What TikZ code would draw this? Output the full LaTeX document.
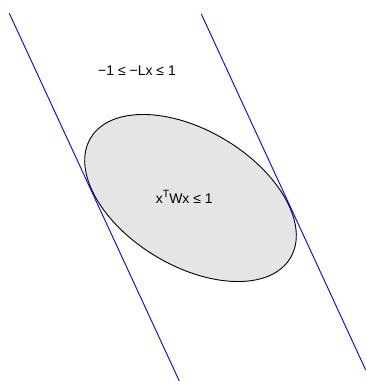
\documentclass[tikz,border=0pt]{standalone}
\usepackage{fontspec}
\setmainfont{Liberation Sans}
\begin{document}
\begin{tikzpicture}
    [x=1pt,y=-1pt,
    bound/.style={blue,line width=0.9pt},
    region/.style={draw=black,fill=black!10,line width=0.9pt},
    lbl/.style={font=\fontsize{14}{16}\selectfont,inner sep=0pt,anchor=base}]
    \useasboundingbox (0,0) rectangle (366,381);
    %ellipse
    \draw[region,rotate around={-31:(190.5,198)}] (190.5,198) ellipse [x radius=116.5pt, y radius=67.8pt];
    %slab
    \draw[bound] (9.3,13.3)--(179.3,381);
    \draw[bound] (201.3,14)--(365.7,370);
    %labels
    \node[lbl] (slab) at (137,75.3) {−1 ≤ −Lx ≤ 1};
    \node[lbl] (ell) at (184.3,203.3) {x\raisebox{6pt}{\fontsize{10.5}{12}\selectfont T}Wx ≤ 1};
\end{tikzpicture}
\end{document}
